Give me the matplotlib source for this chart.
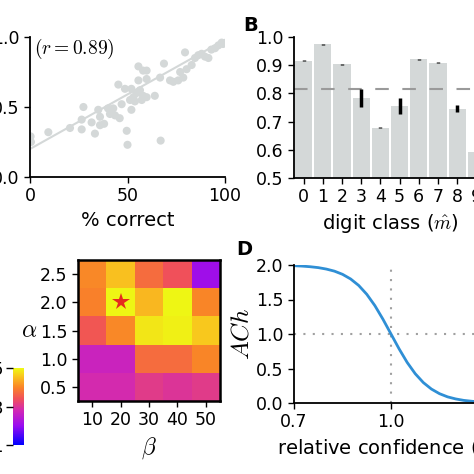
import matplotlib
matplotlib.use("Agg")
import matplotlib.pyplot as plt
from matplotlib.colors import LinearSegmentedColormap

plt.rcParams['font.size'] = 12.5
plt.rcParams['axes.labelsize'] = 14
plt.rcParams['mathtext.fontset'] = 'cm'
plt.rcParams['axes.linewidth'] = 1.3
plt.rcParams['xtick.major.width'] = 1.0
plt.rcParams['ytick.major.width'] = 1.0
plt.rcParams['xtick.major.size'] = 4
plt.rcParams['ytick.major.size'] = 4

# A: scatter of % correct vs. score
pct_correct = [0.3, 0.5, 9.4, 20.5, 27.4, 26.5, 26.5, 31.6, 33.3, 35.0, 35.9, 35.9,
               38.0, 40.0, 41.0, 42.7, 43.6, 45.3, 46.0, 47.0, 48.7, 49.6, 50.0, 51.3,
               52.0, 52.0, 53.0, 53.8, 54.7, 55.6, 55.6, 56.4, 57.3, 58.0, 58.0, 59.8,
               59.8, 59.8, 64.0, 66.7, 67.0, 68.7, 71.8, 73.5, 76.0, 77.0, 78.6, 79.5,
               80.3, 82.9, 84.6, 86.3, 88.0, 89.7, 91.5, 93.0, 94.9, 96.6, 98.3, 99.0]
score = [0.29, 0.25, 0.32, 0.35, 0.50, 0.41, 0.34, 0.39, 0.31, 0.48, 0.43, 0.37,
         0.38, 0.49, 0.45, 0.49, 0.44, 0.66, 0.42, 0.52, 0.63, 0.33, 0.23, 0.55,
         0.63, 0.48, 0.57, 0.54, 0.60, 0.79, 0.69, 0.62, 0.55, 0.76, 0.58, 0.76,
         0.70, 0.57, 0.58, 0.71, 0.26, 0.81, 0.69, 0.68, 0.69, 0.75, 0.71, 0.89,
         0.77, 0.80, 0.85, 0.87, 0.88, 0.86, 0.85, 0.91, 0.92, 0.94, 0.96, 0.95]
fit_x = [0, 100]
fit_y = [0.20, 0.98]

# B: accuracy per digit class
digits = list(range(10))
acc = [0.916, 0.974, 0.904, 0.783, 0.678, 0.754, 0.921, 0.909, 0.746, 0.593]
acc_err = [0.002, 0.002, 0.002, 0.031, 0.002, 0.028, 0.002, 0.002, 0.012, 0.0]
acc_mean = 0.815

# C: grid search over alpha / beta
betas = [10, 20, 30, 40, 50]
alphas = [0.5, 1.0, 1.5, 2.0, 2.5]
grid = [
    [0.284, 0.284, 0.308, 0.300, 0.308],   # alpha 0.5
    [0.268, 0.268, 0.372, 0.372, 0.400],   # alpha 1.0
    [0.348, 0.404, 0.484, 0.492, 0.460],   # alpha 1.5
    [0.396, 0.496, 0.444, 0.496, 0.400],   # alpha 2.0
    [0.404, 0.452, 0.372, 0.340, 0.208],   # alpha 2.5
]
best = (20, 2.0)
cbar_ticks = [0.1, 0.3, 0.5]

# D: ACh vs relative confidence
conf = [0.70, 0.725, 0.75, 0.775, 0.80, 0.825, 0.85, 0.875, 0.90, 0.925, 0.95, 0.975,
        1.00, 1.025, 1.05, 1.075, 1.10, 1.125, 1.15, 1.175, 1.20, 1.225, 1.25, 1.275, 1.30]
ach = [1.990, 1.984, 1.975, 1.962, 1.941, 1.911, 1.865, 1.798, 1.704, 1.576, 1.412, 1.215,
       1.000, 0.785, 0.588, 0.424, 0.296, 0.202, 0.135, 0.089, 0.059, 0.038, 0.025, 0.016, 0.010]

gray = '#d4d8d8'
cmap = LinearSegmentedColormap.from_list('heat', [
    (0.00, '#0000ff'), (0.25, '#9a0cf0'), (0.45, '#d228b4'),
    (0.60, '#f0505a'), (0.75, '#fa8428'), (0.90, '#f9c81e'), (1.00, '#eefa14')])

fig = plt.figure(figsize=(4.74, 4.74), dpi=100)
W = 474.0

def place(l, t, r, b):
    return [l / W, 1 - b / W, (r - l) / W, (b - t) / W]

# ---- A ----
ax = fig.add_axes(place(30, 37, 225, 177))
ax.plot(fit_x, fit_y, color=gray, lw=1.5, zorder=1)
ax.scatter(pct_correct, score, s=34, color=gray, edgecolors='none', zorder=2)
ax.set_xlim(0, 100)
ax.set_ylim(0, 1)
ax.set_xticks([0, 50, 100])
ax.set_yticks([0, 0.5, 1.0])
ax.set_xlabel('% correct')
ax.text(0.02, 1.0, r'$(r=0.89)$', transform=ax.transAxes, va='top', ha='left', fontsize=14)
for s in ['top', 'right']:
    ax.spines[s].set_visible(False)

# ---- B ----
ax = fig.add_axes(place(294, 37, 486, 178))
ax.bar(digits, acc, width=0.9, color=gray, zorder=1)
ax.errorbar(digits, acc, yerr=acc_err, fmt='none', ecolor='black', elinewidth=2.5, capsize=0, zorder=3)
ax.axhline(acc_mean, color='#9a9a9a', lw=1.5, ls=(0, (6.5, 6.5)), zorder=2)
ax.set_xlim(-0.5, 9.5)
ax.set_ylim(0.5, 1.0)
ax.set_xticks(digits)
ax.set_yticks([0.5, 0.6, 0.7, 0.8, 0.9, 1.0])
ax.set_xlabel(r'digit class ($\hat{m}$)')
for s in ['top', 'right']:
    ax.spines[s].set_visible(False)
fig.text(243 / W, 1 - 31 / W, 'B', fontsize=14, fontweight='bold', ha='left', va='baseline')

# ---- C ----
ax = fig.add_axes(place(78, 260, 220, 401))
im = ax.imshow(grid, cmap=cmap, vmin=0.1, vmax=0.5, origin='lower', aspect='auto',
               extent=[5, 55, 0.25, 2.75], interpolation='nearest')
ax.plot(*best, marker='*', color='#e62a1e', markersize=13, markeredgewidth=0)
ax.set_xticks(betas)
ax.set_yticks(alphas)
ax.set_xlabel(r'$\beta$', fontsize=17)
ax.set_ylabel(r'$\alpha$', fontsize=17, rotation=0, labelpad=8, va='center')
for s in ax.spines.values():
    s.set_linewidth(1.8)

cax = fig.add_axes(place(13, 368, 24, 445))
cb = fig.colorbar(im, cax=cax, ticks=cbar_ticks)
cb.outline.set_visible(False)
cax.yaxis.set_ticks_position('left')
cax.yaxis.set_label_position('left')
cax.tick_params(axis='y', length=5, pad=1.5)
cax.set_yticklabels(['0.1', '0.3', '0.5'])

# ---- D ----
ax = fig.add_axes(place(294, 265, 488, 403))
ax.axvline(1.0, color='#a0a0a0', lw=1.5, ls=(0, (1, 3.5)), zorder=1)
ax.axhline(1.0, color='#a0a0a0', lw=1.5, ls=(0, (1, 3.5)), zorder=1)
ax.plot(conf, ach, color='#2f8fd5', lw=2, zorder=2)
ax.set_xlim(0.7, 1.3)
ax.set_ylim(0, 2.0)
ax.set_xticks([0.7, 1.0, 1.3])
ax.set_yticks([0.0, 0.5, 1.0, 1.5, 2.0])
ax.set_xlabel(r'relative confidence ($\bar{\kappa}$)')
ax.xaxis.label.set_x(0.48)
ax.set_ylabel(r'$ACh$', fontsize=18, labelpad=2)
for s in ['top', 'right']:
    ax.spines[s].set_visible(False)
fig.text(236 / W, 1 - 255 / W, 'D', fontsize=14, fontweight='bold', ha='left', va='baseline')

fig.savefig('out.png', dpi=100)
